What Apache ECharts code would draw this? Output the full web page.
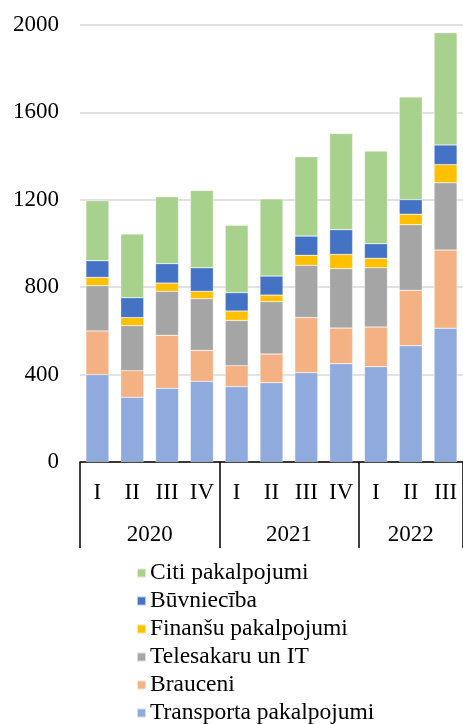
<!DOCTYPE html>
<html>
<head>
<meta charset="utf-8">
<script src="https://cdn.jsdelivr.net/npm/echarts@6/dist/echarts.min.js"></script>
<style>
  html, body { margin: 0; padding: 0; background: #fff; }
  #chart { width: 463px; height: 724px; }
</style>
</head>
<body>
<div id="chart"></div>
<script>
// ceturkšņi un gadi
const quarters = ["I", "II", "III", "IV", "I", "II", "III", "IV", "I", "II", "III"];
const years = ["2020", "2021", "2022"];
const quartersPerYear = [4, 4, 3];
const yTicks = [0, 400, 800, 1200, 1600, 2000];

// sērijas (no apakšas uz augšu)
const transports = [400, 296, 337, 369, 345, 363, 409, 450, 436, 532, 612];
const brauceni = [200, 122, 243, 142, 96, 131, 252, 163, 182, 254, 358];
const telesakari = [207, 206, 201, 237, 207, 240, 239, 272, 271, 300, 308];
const finanses = [38, 37, 38, 33, 43, 30, 46, 65, 43, 48, 83];
const buvnieciba = [76, 91, 89, 108, 84, 87, 88, 113, 67, 67, 90];
const citi = [275, 291, 306, 354, 308, 353, 363, 441, 424, 470, 514];

const FONT = "Liberation Serif";

// gadu robežas un centri uz skaitliskās ass
let yearBounds = [0];
let yearCenters = [];
quartersPerYear.forEach((n) => {
  const start = yearBounds[yearBounds.length - 1];
  yearCenters.push(start + n / 2);
  yearBounds.push(start + n);
});

let myChart = echarts.init(document.getElementById("chart"));

function bar(name, data, color) {
  return {
    name: name,
    type: "bar",
    stack: "total",
    xAxisIndex: 0,
    barCategoryGap: "34%",
    data: data,
    itemStyle: { color: color, borderColor: "rgba(255,255,255,0.6)", borderWidth: 0.5 },
  };
}

var options = {
  animation: false,
  textStyle: { fontFamily: FONT },
  grid: { left: 80, top: 25, height: 437, width: 388 },
  legend: {
    orient: "vertical",
    left: 136,
    top: 561,
    height: 220,
    padding: 0,
    itemWidth: 9,
    itemHeight: 9,
    itemGap: 4,
    icon: "rect",
    data: ["Citi pakalpojumi", "Būvniecība", "Finanšu pakalpojumi", "Telesakaru un IT", "Brauceni", "Transporta pakalpojumi"],
    textStyle: { fontFamily: FONT, fontSize: 23.5, color: "#000", padding: [0, 0, 0, -1] },
  },
  xAxis: [
    {
      type: "category",
      data: quarters,
      position: "bottom",
      axisLine: { lineStyle: { color: "#000", width: 1.5 } },
      axisTick: { show: false },
      axisLabel: { color: "#000", fontFamily: FONT, fontSize: 23, margin: 19, interval: 0 },
    },
    {
      type: "value",
      position: "bottom",
      min: 0,
      max: quarters.length,
      axisLine: { show: false },
      splitLine: { show: false },
      axisTick: {
        show: true,
        inside: false,
        length: 86,
        customValues: yearBounds,
        lineStyle: { color: "#000", width: 1.5 },
      },
      axisLabel: {
        color: "#000",
        fontFamily: FONT,
        fontSize: 23,
        margin: 61,
        customValues: yearCenters,
        formatter: (v) => years[yearCenters.indexOf(v)] || "",
      },
    },
  ],
  yAxis: {
    type: "value",
    min: 0,
    max: 2000,
    interval: 400,
    axisLine: { show: false },
    axisTick: { show: false },
    splitLine: { lineStyle: { color: "#d9d9d9", width: 1.5 } },
    axisLabel: {
      color: "#000",
      fontFamily: FONT,
      fontSize: 23,
      margin: 21,
      customValues: yTicks,
      formatter: (v) => String(v),
    },
  },
  series: [
    bar("Transporta pakalpojumi", transports, "#8FAADC"),
    bar("Brauceni", brauceni, "#F4B183"),
    bar("Telesakaru un IT", telesakari, "#A5A5A5"),
    bar("Finanšu pakalpojumi", finanses, "#FFC000"),
    bar("Būvniecība", buvnieciba, "#4472C4"),
    bar("Citi pakalpojumi", citi, "#A9D18E"),
  ],
};
myChart.setOption(options);
</script>
</body>
</html>
